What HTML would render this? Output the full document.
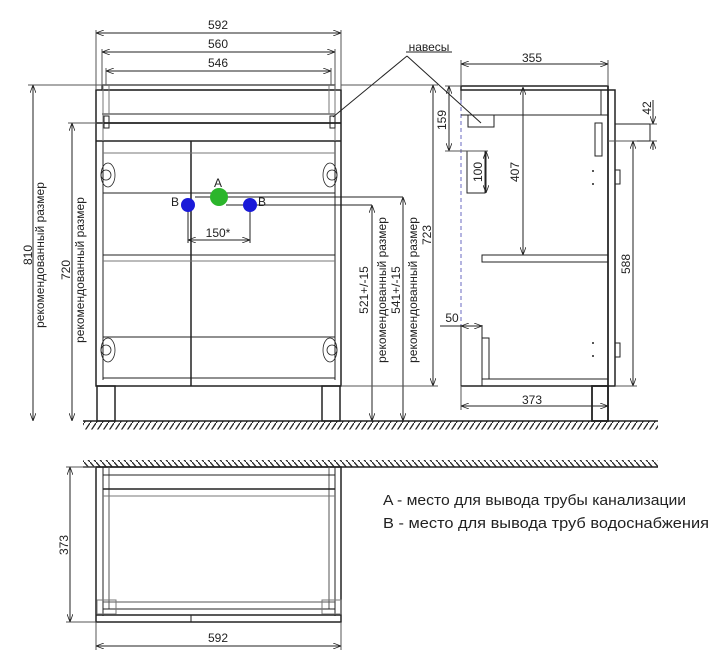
<!DOCTYPE html>
<html><head><meta charset="utf-8"><style>
body{margin:0;background:#fff}
svg{display:block}
text{font-family:"Liberation Sans",sans-serif;fill:#222}
</style></head><body>
<svg width="720" height="671" viewBox="0 0 720 671" xmlns="http://www.w3.org/2000/svg">
<defs>
<marker id="a" markerWidth="8" markerHeight="6" refX="8" refY="3" orient="auto-start-reverse" markerUnits="userSpaceOnUse"><path d="M0,0 L8,3 L0,6" fill="none" stroke="#222" stroke-width="0.8"/></marker>
<pattern id="h1" width="6" height="9" patternUnits="userSpaceOnUse"><path d="M0,9 L6,0" stroke="#222" stroke-width="1.3"/></pattern>
<pattern id="h2" width="6" height="7" patternUnits="userSpaceOnUse"><path d="M0,0 L6,7" stroke="#222" stroke-width="1.3"/></pattern>
</defs>
<g fill="none" stroke="#222" stroke-width="1">
<rect x="83" y="421.5" width="575" height="8" fill="url(#h1)" stroke="none"/>
<line x1="83" y1="421" x2="658" y2="421" stroke-width="1.5"/>
<rect x="83" y="460" width="575" height="7" fill="url(#h2)" stroke="none"/>
<line x1="83" y1="467" x2="658" y2="467" stroke-width="1.5"/>

<rect x="102" y="85" width="233" height="5" stroke-width="1.2"/>
<rect x="96" y="90" width="245" height="296" stroke-width="1.5"/>
<line x1="102" y1="114" x2="335" y2="114"/>
<line x1="96" y1="123" x2="341" y2="123" stroke-width="1.8"/>
<line x1="96" y1="141" x2="341" y2="141" stroke-width="1.5"/>
<line x1="103" y1="85" x2="103" y2="141" stroke="#777"/>
<line x1="109" y1="85" x2="109" y2="114" stroke="#777"/>
<line x1="335" y1="85" x2="335" y2="141" stroke="#777"/>
<line x1="329" y1="85" x2="329" y2="114" stroke="#777"/>
<rect x="104" y="116" width="5" height="12"/>
<rect x="330" y="116" width="5" height="12"/>
<line x1="103" y1="141" x2="103" y2="380"/>
<line x1="335" y1="141" x2="335" y2="380"/>
<line x1="191" y1="141" x2="191" y2="386" stroke-width="1.5"/>
<line x1="103" y1="153" x2="335" y2="153" stroke="#777"/>
<line x1="103" y1="193" x2="335" y2="193"/>
<line x1="103" y1="255" x2="335" y2="255"/>
<line x1="103" y1="261" x2="335" y2="261" stroke="#777"/>
<line x1="103" y1="337" x2="335" y2="337"/>
<line x1="103" y1="378" x2="335" y2="378"/>
<g stroke-width="0.8">
<ellipse cx="108" cy="175" rx="7" ry="12"/><circle cx="106" cy="175" r="5"/>
<ellipse cx="330" cy="175" rx="7" ry="12"/><circle cx="332" cy="175" r="5"/>
<ellipse cx="108" cy="350" rx="7" ry="12"/><circle cx="106" cy="350" r="5"/>
<ellipse cx="330" cy="350" rx="7" ry="12"/><circle cx="332" cy="350" r="5"/>
</g>
<rect x="97" y="386" width="18" height="35" stroke-width="1.5"/>
<rect x="322" y="386" width="18" height="35" stroke-width="1.5"/>

<line x1="96" y1="30" x2="96" y2="90" stroke="#555"/>
<line x1="341" y1="30" x2="341" y2="90" stroke="#555"/>
<line x1="102" y1="49" x2="102" y2="85" stroke="#555"/>
<line x1="335" y1="49" x2="335" y2="85" stroke="#555"/>
<line x1="106" y1="68" x2="106" y2="85" stroke="#555"/>
<line x1="331" y1="68" x2="331" y2="85" stroke="#555"/>
<line x1="96" y1="33" x2="341" y2="33" marker-start="url(#a)" marker-end="url(#a)"/>
<line x1="102" y1="52" x2="335" y2="52" marker-start="url(#a)" marker-end="url(#a)"/>
<line x1="106" y1="71" x2="331" y2="71" marker-start="url(#a)" marker-end="url(#a)"/>
<line x1="28" y1="85" x2="102" y2="85" stroke="#555"/>
<line x1="33" y1="85" x2="33" y2="421" marker-start="url(#a)" marker-end="url(#a)"/>
<line x1="68" y1="123" x2="103" y2="123" stroke="#555"/>
<line x1="72" y1="123" x2="72" y2="421" marker-start="url(#a)" marker-end="url(#a)"/>
<line x1="195" y1="197" x2="403" y2="197"/>
<line x1="226" y1="205" x2="372" y2="205"/>
<line x1="188" y1="205" x2="188" y2="243"/>
<line x1="250" y1="205" x2="250" y2="243"/>
<line x1="188" y1="240" x2="250" y2="240" marker-start="url(#a)" marker-end="url(#a)"/>
<line x1="372" y1="205" x2="372" y2="421" marker-start="url(#a)" marker-end="url(#a)"/>
<line x1="403" y1="197" x2="403" y2="421" marker-start="url(#a)" marker-end="url(#a)"/>
<line x1="341" y1="85" x2="438" y2="85" stroke="#555"/>
<line x1="433" y1="85" x2="433" y2="386" marker-start="url(#a)" marker-end="url(#a)"/>
<line x1="341" y1="386" x2="438" y2="386" stroke="#555"/>

<line x1="406" y1="52" x2="452" y2="52"/>
<line x1="407" y1="56" x2="333" y2="117"/>
<line x1="407" y1="56" x2="481" y2="123"/>

<rect x="461" y="86" width="147" height="4" stroke-width="1.5"/>
<line x1="461" y1="90" x2="461" y2="100"/>
<line x1="461" y1="325" x2="461" y2="386"/>
<line x1="461" y1="100" x2="461" y2="325" stroke="#6a6ac0" stroke-dasharray="4,3"/>
<line x1="608" y1="86" x2="608" y2="421" stroke-width="1.5"/>
<rect x="608" y="90" width="7" height="296" stroke-width="1.5"/>
<line x1="461" y1="115" x2="608" y2="115"/>
<line x1="601" y1="90" x2="601" y2="115"/>
<line x1="461" y1="386" x2="608" y2="386" stroke-width="1.5"/>
<rect x="468" y="115" width="26" height="12"/>
<rect x="482" y="255" width="126" height="7"/>
<rect x="595" y="123" width="7" height="33"/>
<rect x="615" y="170" width="5" height="14"/>
<rect x="615" y="343" width="5" height="14"/>
<rect x="615" y="124" width="35" height="17"/>
<rect x="467" y="151" width="18" height="42"/>
<line x1="482" y1="325" x2="482" y2="386"/>
<line x1="482" y1="379" x2="608" y2="379"/>
<rect x="482" y="338" width="7" height="41"/>
<rect x="592" y="386" width="16" height="35" stroke-width="1.8"/>
<g fill="#222" stroke="none"><circle cx="593" cy="171" r="1"/><circle cx="593" cy="184" r="1"/><circle cx="593" cy="343" r="1"/><circle cx="593" cy="356" r="1"/></g>
<line x1="461" y1="60" x2="461" y2="86" stroke="#555"/>
<line x1="608" y1="60" x2="608" y2="86" stroke="#555"/>
<line x1="461" y1="64" x2="608" y2="64" marker-start="url(#a)" marker-end="url(#a)"/>
<line x1="445" y1="86" x2="461" y2="86" stroke="#555"/>
<line x1="449" y1="86" x2="449" y2="151" marker-start="url(#a)" marker-end="url(#a)"/>
<line x1="445" y1="151" x2="488" y2="151" stroke="#555"/>
<line x1="486" y1="151" x2="486" y2="193" marker-start="url(#a)" marker-end="url(#a)"/>
<line x1="523" y1="87" x2="523" y2="255" marker-start="url(#a)" marker-end="url(#a)"/>
<line x1="608" y1="141" x2="637" y2="141" stroke="#555"/>
<line x1="633" y1="141" x2="633" y2="386" marker-start="url(#a)" marker-end="url(#a)"/>
<line x1="615" y1="386" x2="637" y2="386" stroke="#555"/>
<line x1="650" y1="124" x2="657" y2="124" stroke="#555"/>
<line x1="650" y1="141" x2="657" y2="141" stroke="#555"/>
<line x1="653" y1="100" x2="653" y2="124" marker-end="url(#a)"/>
<line x1="653" y1="150" x2="653" y2="141" marker-end="url(#a)"/>
<line x1="440" y1="326" x2="461" y2="326"/>
<line x1="461" y1="326" x2="482" y2="326" marker-start="url(#a)" marker-end="url(#a)"/>
<line x1="461" y1="386" x2="461" y2="410" stroke="#555"/>
<line x1="461" y1="406" x2="608" y2="406" marker-start="url(#a)" marker-end="url(#a)"/>

<rect x="96" y="467" width="245" height="155" stroke-width="1.5"/>
<line x1="103" y1="467" x2="103" y2="616"/>
<line x1="109" y1="467" x2="109" y2="609" stroke="#555"/>
<line x1="335" y1="467" x2="335" y2="616"/>
<line x1="329" y1="467" x2="329" y2="609" stroke="#555"/>
<line x1="103" y1="475" x2="335" y2="475"/>
<line x1="103" y1="489" x2="335" y2="489" stroke-width="1.5"/>
<line x1="103" y1="496" x2="335" y2="496" stroke="#777"/>
<line x1="103" y1="602" x2="335" y2="602" stroke="#555"/>
<line x1="103" y1="609" x2="335" y2="609"/>
<line x1="96" y1="615" x2="341" y2="615" stroke-width="1.5"/>
<line x1="191" y1="615" x2="191" y2="622"/>
<rect x="97" y="600" width="19" height="14" stroke="#777"/>
<rect x="322" y="600" width="19" height="14" stroke="#777"/>
<line x1="66" y1="467" x2="96" y2="467" stroke="#555"/>
<line x1="66" y1="622" x2="96" y2="622" stroke="#555"/>
<line x1="70" y1="467" x2="70" y2="622" marker-start="url(#a)" marker-end="url(#a)"/>
<line x1="96" y1="622" x2="96" y2="650" stroke="#555"/>
<line x1="341" y1="622" x2="341" y2="650" stroke="#555"/>
<line x1="96" y1="646" x2="341" y2="646" marker-start="url(#a)" marker-end="url(#a)"/>
</g>

<circle cx="219" cy="197" r="9" fill="#2bb52b"/>
<circle cx="188" cy="205" r="7" fill="#1a1ad8"/>
<circle cx="250" cy="205" r="7" fill="#1a1ad8"/>

<g font-size="12" text-anchor="middle">
<text x="218" y="29">592</text>
<text x="218" y="48">560</text>
<text x="218" y="67">546</text>
<text x="218" y="187">A</text>
<text x="175" y="206">B</text>
<text x="262" y="206">B</text>
<text x="218" y="237">150*</text>
<text x="429" y="51">навесы</text>
<text x="532" y="62">355</text>
<text x="452" y="322">50</text>
<text x="532" y="404">373</text>
<text x="218" y="642">592</text>
<text transform="translate(32,255) rotate(-90)">810</text>
<text transform="translate(44,255) rotate(-90)">рекомендованный размер</text>
<text transform="translate(70,270) rotate(-90)">720</text>
<text transform="translate(84,270) rotate(-90)">рекомендованный размер</text>
<text transform="translate(368,290) rotate(-90)">521+/-15</text>
<text transform="translate(386,290) rotate(-90)">рекомендованный размер</text>
<text transform="translate(400,290) rotate(-90)">541+/-15</text>
<text transform="translate(417,290) rotate(-90)">рекомендованный размер</text>
<text transform="translate(431,235) rotate(-90)">723</text>
<text transform="translate(446,120) rotate(-90)">159</text>
<text transform="translate(482,172) rotate(-90)">100</text>
<text transform="translate(519,172) rotate(-90)">407</text>
<text transform="translate(630,264) rotate(-90)">588</text>
<text transform="translate(651,108) rotate(-90)">42</text>
<text transform="translate(68,545) rotate(-90)">373</text>
</g>
<g font-size="15">
<text x="383" y="505" textLength="303" lengthAdjust="spacingAndGlyphs">A - место для вывода трубы канализации</text>
<text x="383" y="528" textLength="326" lengthAdjust="spacingAndGlyphs">B - место для вывода труб водоснабжения</text>
</g>
</svg>
</body></html>
